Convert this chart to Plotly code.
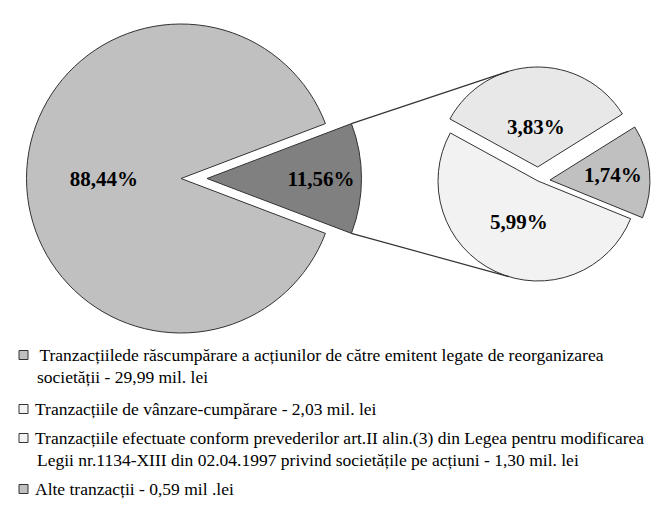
import math
import plotly.graph_objects as go

# ---------------- data ----------------
main_labels = ["Tranzacțiile de răscumpărare", "Alte tranzacții (total)"]
main_pct = [88.44, 11.56]
main_colors = ["#c0c0c0", "#808080"]

sub_labels = ["Alte tranzacții", "Vânzare-cumpărare", "Art.II alin.(3)"]
sub_pct = [1.74, 5.99, 3.83]
sub_colors = ["#c0c0c0", "#f2f2f2", "#e8e8e8"]

legend_lines = [
    ["\u00a0Tranzacțiilede răscumpărare a acțiunilor de către emitent legate de reorganizarea",
     "societății - 29,99 mil. lei"],
    ["Tranzacțiile de vânzare-cumpărare - 2,03 mil. lei"],
    ["Tranzacțiile efectuate conform prevederilor art.II alin.(3) din Legea pentru modificarea",
     "Legii nr.1134-XIII din 02.04.1997 privind societățile pe acțiuni - 1,30 mil. lei"],
    ["Alte tranzacții - 0,59 mil .lei"],
]
legend_colors = ["#c0c0c0", "#f2f2f2", "#f2f2f2", "#c0c0c0"]


def fmt(v):
    return f"{v:.2f}".replace(".", ",") + "%"


# ---------------- layout / style constants ----------------
W, H = 662, 525
big_cx, big_cy, big_r, big_shift = 181, 178.5, 154.5, 26
sm_cx, sm_cy, sm_r, sm_pull = 538, 181, 100, 0.12
sub_pull = [sm_pull, 0.0, sm_pull + 0.02]
sub_text_r = [0.63, 0.45, 0.40]
sm_rot = 58
legend_y = [355, 409, 438, 489]
legend_dy = 22
LINE = "#333333"
CLEAR = "rgba(0,0,0,0)"
FONT = "Times New Roman, Liberation Serif, serif"
big_rot = 90 + main_pct[1] / sum(main_pct) * 180


def dom(cx, cy, half):
    return dict(x=[(cx - half) / W, (cx + half) / W],
                y=[1 - (cy + half) / H, 1 - (cy - half) / H])


def px(x, y):
    return x / W, 1 - y / H


lbl_font = dict(family=FONT, size=21, color="black", weight="bold")

fig = go.Figure()
# main pie: large slice and the detached slice drawn as two aligned layers
for keep, cx in [(0, big_cx), (1, big_cx + big_shift)]:
    fig.add_trace(go.Pie(
        labels=main_labels, values=main_pct, sort=False, direction="clockwise",
        rotation=big_rot,
        marker=dict(colors=[c if i == keep else CLEAR for i, c in enumerate(main_colors)],
                    line=dict(color=[LINE if i == keep else CLEAR for i in range(2)], width=1)),
        text=[fmt(v) if i == keep else "" for i, v in enumerate(main_pct)],
        textinfo="text", textposition="inside", insidetextorientation="horizontal",
        textfont=lbl_font, domain=dom(cx, big_cy, big_r),
        showlegend=False, hoverinfo="skip",
    ))

max_pull = max(sub_pull)
fig.add_trace(go.Pie(
    labels=sub_labels, values=sub_pct, sort=False, direction="clockwise",
    rotation=sm_rot, pull=sub_pull,
    marker=dict(colors=sub_colors, line=dict(color=LINE, width=1)),
    textinfo="none",
    domain=dom(sm_cx, sm_cy, sm_r * (1 + max_pull)), showlegend=False, hoverinfo="skip",
))

# secondary pie geometry (angles clockwise from 12 o'clock)
tot = sum(sub_pct)
start = sm_rot
centers, mids = [], []
for v, p in zip(sub_pct, sub_pull):
    a0, a1 = start, start + v / tot * 360
    start = a1
    m = math.radians((a0 + a1) / 2)
    mids.append(m)
    centers.append((sm_cx + p * sm_r * math.sin(m), sm_cy - p * sm_r * math.cos(m)))

annotations = []
for v, (ccx, ccy), m, k in zip(sub_pct, centers, mids, sub_text_r):
    tx, ty = px(ccx + k * sm_r * math.sin(m), ccy - k * sm_r * math.cos(m))
    annotations.append(dict(text=fmt(v), x=tx, y=ty, xref="paper", yref="paper",
                            xanchor="center", yanchor="middle", showarrow=False,
                            font=lbl_font))

# connector lines from the detached slice to the secondary pie
half_a = math.radians(main_pct[1] / sum(main_pct) * 180)
dcx = big_cx + big_shift
corner_top = (dcx + big_r * math.cos(half_a), big_cy - big_r * math.sin(half_a))
corner_bot = (dcx + big_r * math.cos(half_a), big_cy + big_r * math.sin(half_a))
a_top = math.radians(343)
tcx, tcy = centers[2]
end_top = (tcx + sm_r * math.sin(a_top), tcy - sm_r * math.cos(a_top))
a_bot = math.radians(197)
end_bot = (sm_cx + sm_r * math.sin(a_bot), sm_cy - sm_r * math.cos(a_bot))

shapes = []
for p0, p1 in [(corner_top, end_top), (corner_bot, end_bot)]:
    x0, y0 = px(*p0)
    x1, y1 = px(*p1)
    shapes.append(dict(type="line", xref="paper", yref="paper", x0=x0, y0=y0,
                       x1=x1, y1=y1, line=dict(color=LINE, width=1.2)))

# legend (boxes + text)
for lines, col, yc in zip(legend_lines, legend_colors, legend_y):
    bx0, by0 = px(19, yc - 4.5)
    bx1, by1 = px(28, yc + 4.5)
    shapes.append(dict(type="rect", xref="paper", yref="paper", x0=bx0, x1=bx1,
                       y0=by0, y1=by1, fillcolor=col, line=dict(color=LINE, width=1)))
    for i, t in enumerate(lines):
        ax, ay = px(33 if i == 0 else 35, yc + i * legend_dy)
        annotations.append(dict(text=t, x=ax, y=ay, xref="paper", yref="paper",
                                xanchor="left", yanchor="middle", showarrow=False,
                                font=dict(family=FONT, size=17.5, color="black")))

fig.update_layout(
    width=W, height=H, margin=dict(l=0, r=0, t=0, b=0),
    paper_bgcolor="white", plot_bgcolor="white",
    shapes=shapes, annotations=annotations,
)
fig.write_html("out.html", config={"displayModeBar": False},
               post_script="document.body.style.margin='0px';")
